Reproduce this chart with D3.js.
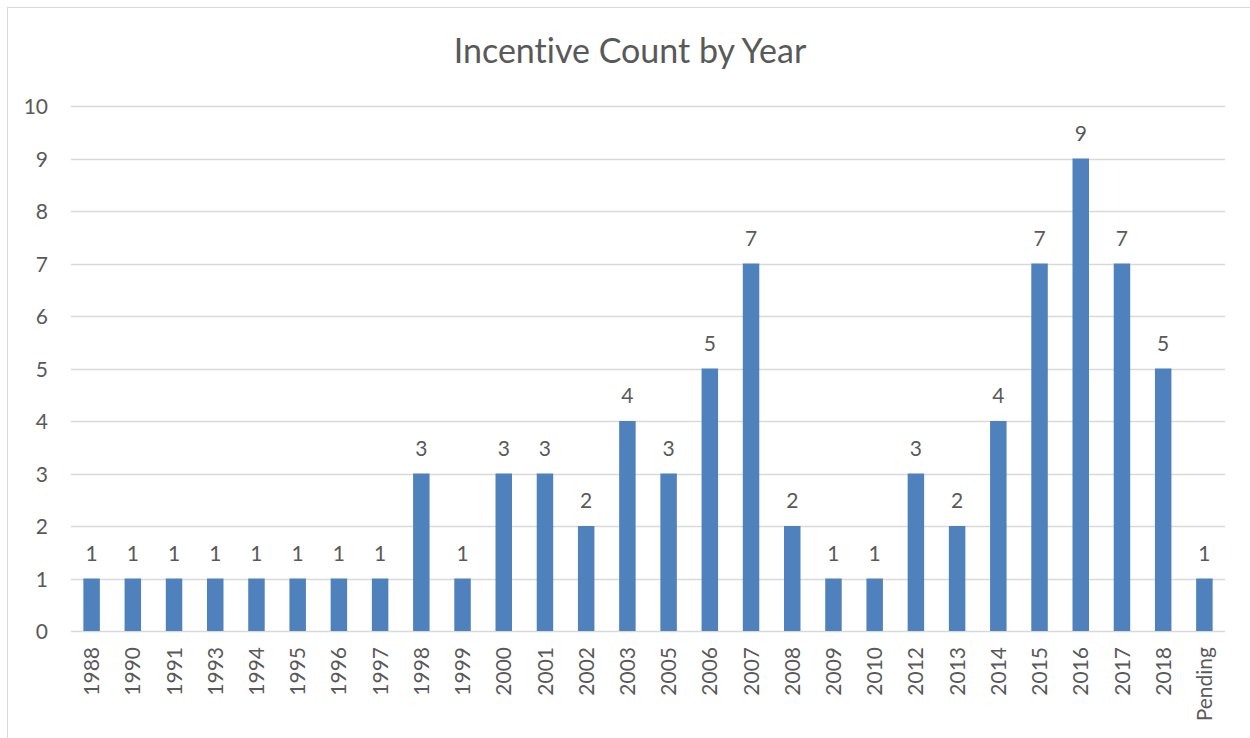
<!DOCTYPE html>
<html>
<head>
<meta charset="utf-8">
<script src="https://cdn.jsdelivr.net/npm/d3@7"></script>
<style>
  body { margin: 0; background: #fff; }
  svg { display: block; }
  text { font-family: Lato, "Open Sans", sans-serif; fill: #595959; font-variant-ligatures: none; }
</style>
</head>
<body>
<svg id="chart" width="1250" height="738"></svg>
<script>
var categories = ['1988', '1990', '1991', '1993', '1994', '1995', '1996', '1997', '1998', '1999',
  '2000', '2001', '2002', '2003', '2005', '2006', '2007', '2008', '2009', '2010',
  '2012', '2013', '2014', '2015', '2016', '2017', '2018', 'Pending']
var counts = [1, 1, 1, 1, 1, 1, 1, 1, 3, 1, 3, 3, 2, 4, 3, 5, 7, 2, 1, 1, 3, 2, 4, 7, 9, 7, 5, 1]
var yTicks = [0, 1, 2, 3, 4, 5, 6, 7, 8, 9, 10]

var data = categories.map((c, i) => ({ name: c, value: counts[i] }))

var svg = d3.select('#chart')

// chart frame
svg.append('rect')
    .attr('x', 7.5)
    .attr('y', 7.5)
    .attr('width', 1260)
    .attr('height', 760)
    .attr('fill', 'none')
    .attr('stroke', '#d9d9d9')

var x = d3.scaleBand()
    .domain(categories)
    .range([71, 1225])
    .paddingInner(0.6)
    .paddingOuter(0.3)

var y = d3.scaleLinear()
    .domain([0, 10])
    .range([631, 106])

svg.append('text')
    .attr('x', 630)
    .attr('y', 63)
    .attr('text-anchor', 'middle')
    .style('font-size', '34px')
    .text('Incentive Count by Year')

// gridlines
svg.append('g')
  .selectAll('line')
  .data(yTicks)
  .enter()
  .append('line')
    .attr('x1', 71)
    .attr('x2', 1225)
    .attr('y1', d => Math.round(y(d)) + 0.5)
    .attr('y2', d => Math.round(y(d)) + 0.5)
    .attr('stroke', '#d9d9d9')
    .attr('stroke-width', 1.5)

// y axis labels
var yAxis = svg.append('g')
    .attr('transform', 'translate(48, 0)')
    .call(d3.axisLeft(y).tickValues(yTicks).tickSize(0).tickPadding(0))
yAxis.select('.domain').remove()
yAxis.selectAll('text')
    .style('font-size', '21px')
    .attr('fill', '#595959')
    .attr('dy', '0.36em')

// bars
svg.append('g')
  .selectAll('rect')
  .data(data)
  .enter()
  .append('rect')
    .attr('x', d => x(d.name))
    .attr('width', x.bandwidth())
    .attr('y', d => y(d.value))
    .attr('height', d => y(0) - y(d.value))
    .attr('fill', '#4f81bd')

// value labels
svg.append('g')
  .selectAll('text')
  .data(data)
  .enter()
  .append('text')
    .attr('x', d => x(d.name) + x.bandwidth() / 2)
    .attr('y', d => y(d.value) - 18)
    .attr('text-anchor', 'middle')
    .style('font-size', '21px')
    .text(d => d.value)

// category labels, rotated
var xAxis = svg.append('g')
    .attr('transform', 'translate(0, 631)')
    .call(d3.axisBottom(x).tickSize(0).tickPadding(0))
xAxis.select('.domain').remove()
xAxis.selectAll('text')
    .style('font-size', '21px')
    .attr('fill', '#595959')
    .attr('text-anchor', 'end')
    .attr('transform', 'translate(0, 16) rotate(-90)')
    .attr('x', 0)
    .attr('y', 0)
    .attr('dy', '0.36em')
</script>
</body>
</html>
